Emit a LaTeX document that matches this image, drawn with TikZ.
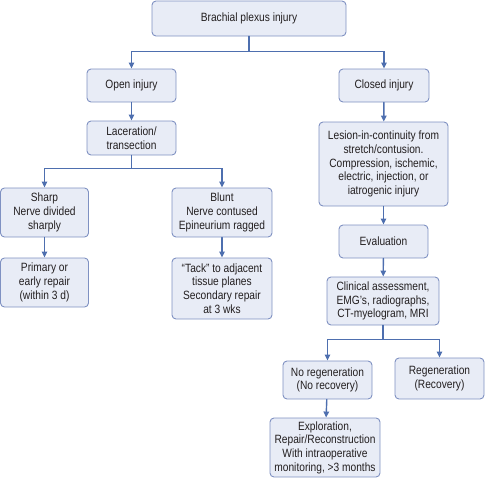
\documentclass[tikz,border=0pt]{standalone}
\usepackage{fontspec}
\setmainfont{Liberation Sans}[FakeStretch=0.85]
\usepackage{tikz}
\usetikzlibrary{arrows.meta,positioning,calc}
\definecolor{boxfill}{HTML}{E8ECF6}
\definecolor{boxline}{HTML}{7F91C2}
\definecolor{linkcol}{HTML}{4E6FAF}
\definecolor{txt}{HTML}{231F20}
\tikzset{
  stage/.style={draw=boxline,fill=boxfill,line width=0.9pt,rounded corners=4pt,text=txt,
    align=center,inner sep=1pt,font=\fontsize{12}{13.7}\selectfont},
  link/.style={draw=linkcol,line width=1.4pt,-{Triangle[length=6pt,width=5.5pt]}}
}
\begin{document}
\begin{tikzpicture}[x=1pt,y=1pt,line cap=round]
\useasboundingbox (0,0) rectangle (485,-480);
% boxes
\node[stage,minimum width=194,minimum height=35] (top) at (249,-18.5) {Brachial plexus injury};
\node[stage,minimum width=89,minimum height=33] (open) at (131.5,-85.5) {Open injury};
\node[stage,minimum width=90,minimum height=33] (closed) at (384,-85.5) {Closed injury};
\node[stage,minimum width=89,minimum height=34] (lac) at (131.5,-138) {Laceration/\\transection};
\node[stage,minimum width=129,minimum height=84] (lesion) at (383.5,-164) {Lesion-in-continuity from\\stretch/contusion.\\Compression, ischemic,\\electric, injection, or\\iatrogenic injury};
\node[stage,minimum width=88,minimum height=49] (sharp) at (44.5,-212.5) {Sharp\\Nerve divided\\sharply};
\node[stage,minimum width=100,minimum height=49] (blunt) at (222,-212.5) {Blunt\\Nerve contused\\Epineurium ragged};
\node[stage,minimum width=88,minimum height=49] (primary) at (44.5,-282.5) {Primary or\\early repair\\(within 3 d)};
\node[stage,minimum width=100,minimum height=61] (tack) at (222,-288.5) {“Tack” to adjacent\\tissue planes\\Secondary repair\\at 3 wks};
\node[stage,minimum width=89,minimum height=33] (eval) at (383.5,-241.5) {Evaluation};
\node[stage,minimum width=112,minimum height=48] (clin) at (383,-301) {Clinical assessment,\\EMG’s, radiographs,\\CT-myelogram, MRI};
\node[stage,minimum width=89,minimum height=38] (noreg) at (327.5,-380) {No regeneration\\(No recovery)};
\node[stage,minimum width=89,minimum height=41] (reg) at (439.5,-378.5) {Regeneration\\(Recovery)};
\node[stage,minimum width=110,minimum height=59] (explor) at (325,-447.5) {Exploration,\\Repair/Reconstruction\\With intraoperative\\monitoring, >3 months};
% links
\draw[link] (top.south) -- ++(0,-15) -| (open);
\draw[link] (top.south) -- ++(0,-15) -| (closed);
\draw[link] (open) -- (lac);
\draw[link] (closed) -- (lesion);
\draw[link] (lac.south) -- ++(0,-13) -| (sharp);
\draw[link] (lac.south) -- ++(0,-13) -| (blunt);
\draw[link] (sharp) -- (primary);
\draw[link] (blunt) -- (tack);
\draw[link] (lesion) -- (eval);
\draw[link] (eval) -- (clin);
\draw[link] (clin.south) -- ++(0,-14) -| (noreg);
\draw[link] (clin.south) -- ++(0,-14) -| (reg);
\draw[link] (noreg) -- (explor);
\end{tikzpicture}
\end{document}
